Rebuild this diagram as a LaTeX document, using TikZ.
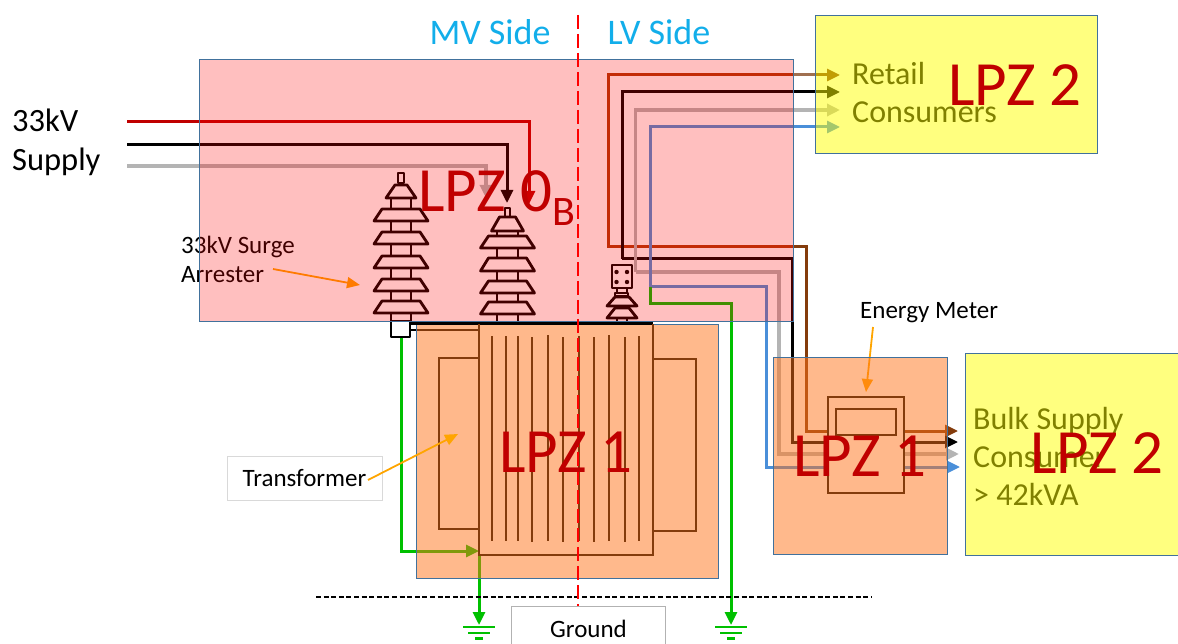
\documentclass[tikz,border=0pt]{standalone}
\usepackage{fontspec}
\setmainfont{Carlito}
\usetikzlibrary{arrows.meta}
\definecolor{lpzred}{HTML}{C00000}
\definecolor{zonepink}{HTML}{FF0000}
\definecolor{zoneorange}{HTML}{FF7319}
\definecolor{zoneyellow}{HTML}{FFFF00}
\definecolor{edgeblue}{HTML}{41719C}
\definecolor{wirebrown}{HTML}{843C0C}
\definecolor{wirered}{HTML}{B03C0A}
\definecolor{wiregap}{HTML}{A07050}
\definecolor{wiregray}{HTML}{B4B4B4}
\definecolor{wireblue}{HTML}{4A8FD9}
\definecolor{wiregreen}{HTML}{00C000}
\definecolor{callout}{HTML}{FFA500}
\definecolor{skyblue}{HTML}{12AEEA}
\tikzset{
  wire/.style={line width=3pt},
  greywire/.style={wiregray,line width=3.4pt},
  tipped/.style={-{Triangle[length=13pt,width=12pt]}},
  insul/.style={draw=black,line width=2.8pt,fill=white,line join=round},
  trafo/.style={draw=wirebrown,line width=2.8pt},
  core/.style={draw=wirebrown,line width=2.5pt},
  zone/.style={draw=edgeblue,line width=0.8pt,fill opacity=0.5,draw opacity=1},
  call/.style={callout,line width=1.8pt,-{Triangle[length=13pt,width=11pt]}},
  lpz/.style={text=lpzred,font=\fontsize{63}{63}\selectfont,inner sep=0pt},
  small/.style={font=\fontsize{25}{29}\selectfont,inner sep=0pt,align=left,text=black},
  big/.style={font=\fontsize{32.5}{39}\selectfont,inner sep=0pt,align=left},
  consumer/.style={font=\fontsize{32}{38}\selectfont,inner sep=0pt,align=left,anchor=west},
  head/.style={inner sep=0pt,text=skyblue,font=\fontsize{36}{40}\selectfont},
}
\newcommand{\disc}[5]{\draw[insul] (#1-#4,#3) -- (#1+#4,#3) -- (#1+#5,#2) -- (#1-#5,#2) -- cycle;}
\begin{document}
\begin{tikzpicture}[x=1pt,y=-1pt]
\useasboundingbox (0,0) rectangle (1178,644);
% labels under overlays
\node[big,anchor=west] (supply) at (12,142.5) {33kV\\Supply};
\node[small,anchor=west] (arrlabel) at (181,259.5) {33kV Surge\\Arrester};
\node[small,anchor=west] (emlabel) at (860,313) {Energy Meter};
% wires into MV side
\draw[wire,lpzred,tipped] (127,122) -- (529,122) -- (529,204);
\draw[wire,black,tipped] (127,145) -- (507,145) -- (507,203);
\draw[greywire,tipped] (127,166) -- (486,166) -- (486,198);
% arrester 1
\draw[insul] (391,198) rectangle (411,322);
\draw[insul] (398,173) rectangle (404,183);
\disc{401}{185}{198}{15}{6}
\disc{401}{209}{221}{27}{19}
\disc{401}{232}{244}{27}{19}
\disc{401}{256}{268}{27}{19}
\disc{401}{279}{291}{27}{19}
\disc{401}{301}{313}{27}{19}
% arrester 2
\draw[insul] (497,231) rectangle (518,322);
\draw[insul] (505,208) rectangle (510,217);
\disc{507.5}{217}{231}{16}{8}
\disc{507.5}{236}{248}{27}{19}
\disc{507.5}{258}{271}{27}{19}
\disc{507.5}{281}{293}{27}{19}
\disc{507.5}{302}{314}{27}{19}
% arrester 3
\draw[insul] (617,288) rectangle (627,322);
\draw[insul] (612,265) rectangle (632,288);
\foreach \px/\py in {616.5/272,627/272,616.5/282,627/282} \fill (\px,\py) circle (2.2);
\draw[insul] (615,293) rectangle (628,296);
\disc{622}{297}{306}{15}{7}
\disc{622}{308}{318}{15}{7}
% LV wires
\draw[wire,wirered] (793,75) -- (608,75) -- (608,247) -- (793,247);
\draw[wire,wiregap] (793,75) -- (815,75);
\draw[wire,wirebrown,tipped] (815,75) -- (840,75);
\draw[wire,wirebrown,tipped] (793,247) -- (806,247) -- (806,431) -- (958,431);
\draw[wire,black,tipped] (622,259) -- (622,92) -- (840,92);
\draw[wire,black,tipped] (622,259) -- (792,259) -- (792,442) -- (958,442);
\draw[greywire,tipped] (635.5,272) -- (635.5,110) -- (840,110);
\draw[greywire,tipped] (635.5,272) -- (779,272) -- (779,454) -- (959,454);
\draw[wire,wireblue,tipped] (650,287) -- (650,127) -- (840,127);
\draw[wire,wireblue,tipped] (650,287) -- (766,287) -- (766,467) -- (960,467);
% earth wires
\draw[wire,wiregreen,tipped] (650,287) -- (650,304) -- (731,304) -- (731,625);
\draw[wire,wiregreen,tipped] (401,337) -- (401,551) -- (479,551);
\draw[wire,wiregreen,tipped] (479,553) -- (479,625);
\foreach \gx in {479,731} {
  \draw[wiregreen,line width=2.6pt] (\gx-16,627) -- (\gx+16,627) (\gx-11,633) -- (\gx+11,633) (\gx-4,638.5) -- (\gx+4,638.5);
}
% stubs and bodies under the overlay
\draw[black,line width=2.8pt] (410,330) -- (479,330);
\draw[insul] (391,321) rectangle (410,337);
\fill[white] (479,324) rectangle (653,555);
\fill[white] (439,358) rectangle (479,529);
\fill[white] (653,359) rectangle (696,531);
\fill[white] (828,397) rectangle (904,493);
\draw[call] (273,269) -- (360,285);
\draw[call] (873,327) -- (866,392);
% yellow text under overlay
\node[consumer] (retail) at (852,93) {Retail\\Consumers};
\node[consumer] (bulk) at (973,456) {Bulk Supply\\Consumer\\> 42kVA};
% overlays
\path[zone,fill=zonepink,fill opacity=0.25] (199,59) rectangle (793,321);
\path[zone,fill=zoneorange] (416,324) rectangle (718,578);
\path[zone,fill=zoneorange] (773,357) rectangle (947,554);
\path[zone,fill=zoneyellow] (815,15) rectangle (1097,153);
\path[zone,fill=zoneyellow] (965,353) rectangle (1180,555);
% transformer over overlay
\draw[black,line width=2.8pt] (410,323.5) -- (653,323.5);
\draw[trafo] (479,324) -- (479,555) -- (653,555) -- (653,324);
\draw[trafo] (479,358) -- (439,358) -- (439,529) -- (479,529);
\draw[trafo] (653,359) -- (696,359) -- (696,531) -- (653,531);
\foreach \cx/\ca/\cb in {492/336/541,506/336/541,518/336/541,532/337/542,548/335/541,563/337/542,579/336/541,594/337/542,609/335/541,625/337/542,639/336/541}
  \draw[core] (\cx,\ca) -- (\cx,\cb);
% meter outline
\draw[draw=wirebrown,line width=1.7pt] (828,397) rectangle (904,493);
\draw[draw=wirebrown,line width=1.7pt] (836,409) rectangle (896,435);
% boxes above
\node[draw=black!15,fill=white,minimum width=155pt,minimum height=44pt,inner sep=0pt,font=\fontsize{25}{29}\selectfont] (transformer) at (304.5,478) {Transformer};
\coordinate (tfend) at (368,480);
\coordinate (tftip) at (458,434);
\draw[call] (tfend) -- (tftip);
\node[draw=black!30,fill=white,minimum width=154pt,minimum height=50pt,anchor=north west,inner sep=0pt] (groundbox) at (511,606) {};
\node[inner sep=0pt,font=\fontsize{25}{29}\selectfont] (groundtxt) at (588.5,629) {Ground};
% dashed lines
\draw[black,line width=1.5pt,dash pattern=on 5pt off 2.6pt] (316,597) -- (872,597);
\draw[red,line width=1.5pt,dash pattern=on 14pt off 5pt] (578,15) -- (578,606);
% headings
\node[head] (mv) at (490,32) {MV Side};
\node[head] (lv) at (659,32) {LV Side};
% zone labels
\node[lpz,anchor=base west] (z0) at (418,212) {LPZ 0\raisebox{-14pt}{\fontsize{42}{42}\selectfont B}};
\node[lpz] (z1) at (566,452) {LPZ 1};
\node[lpz] (z1b) at (860,456) {LPZ 1};
\node[lpz] (z2a) at (1015,85) {LPZ 2};
\node[lpz] (z2b) at (1097,453) {LPZ 2};
\end{tikzpicture}
\end{document}
